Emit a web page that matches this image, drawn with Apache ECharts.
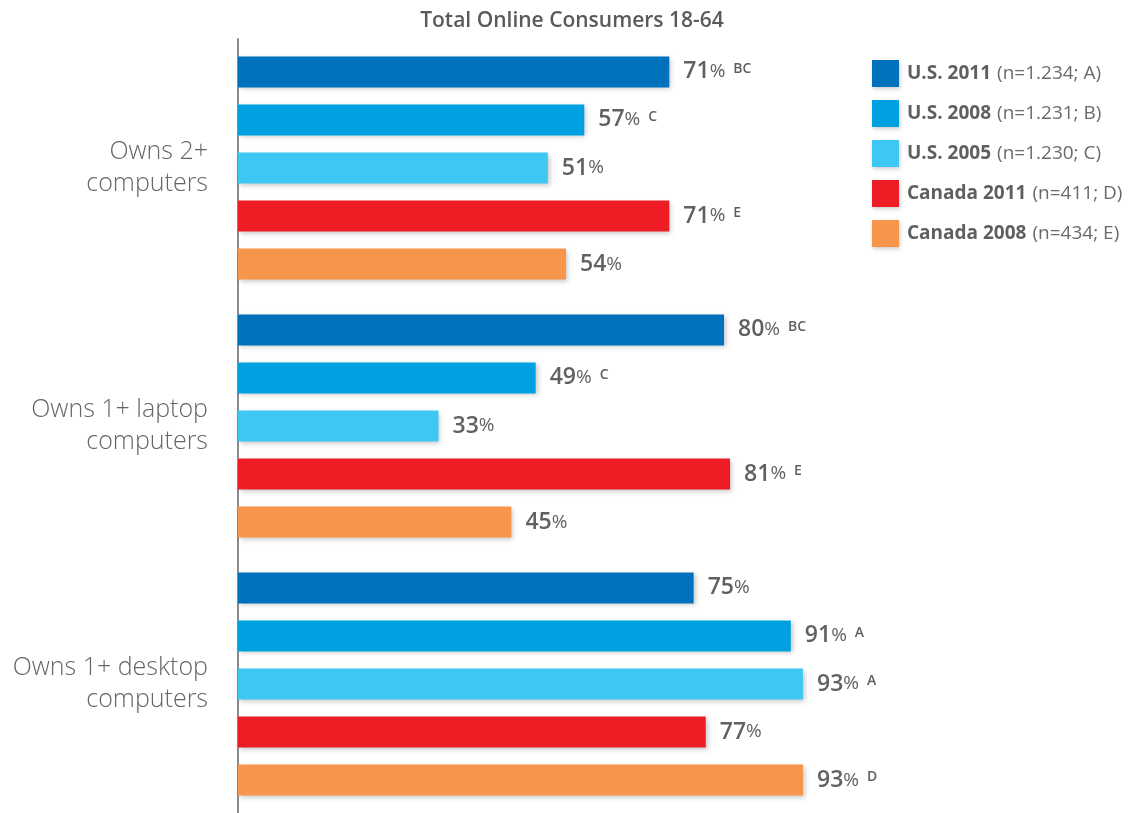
<!DOCTYPE html>
<html>
<head>
<meta charset="utf-8">
<script src="https://cdn.jsdelivr.net/npm/echarts@6/dist/echarts.min.js"></script>
<style>
  html, body { margin: 0; padding: 0; background: #fff; }
  #chart { width: 1138px; height: 813px; }
</style>
</head>
<body>
<div id="chart"></div>
<script>
// Ownership categories (top to bottom)
const categories = ['Owns 2+\ncomputers', 'Owns 1+ laptop\ncomputers', 'Owns 1+ desktop\ncomputers'];

// Survey groups
const seriesNames = ['U.S. 2011', 'U.S. 2008', 'U.S. 2005', 'Canada 2011', 'Canada 2008'];
const sampleNotes = ['(n=1.234; A)', '(n=1.231; B)', '(n=1.230; C)', '(n=411; D)', '(n=434; E)'];
const seriesColors = ['#0071BC', '#00A1E1', '#3FC7F4', '#EE1C25', '#F7964A'];

// Percent values per group, one entry per category
const us2011 = [71, 80, 75];
const us2008 = [57, 49, 91];
const us2005 = [51, 33, 93];
const canada2011 = [71, 81, 77];
const canada2008 = [54, 45, 93];

// Significance markers shown after each value
const us2011Sig = ['BC', 'BC', ''];
const us2008Sig = ['C', 'C', 'A'];
const us2005Sig = ['', '', 'A'];
const canada2011Sig = ['E', 'E', ''];
const canada2008Sig = ['', '', 'D'];

const seriesValues = [us2011, us2008, us2005, canada2011, canada2008];
const seriesSig = [us2011Sig, us2008Sig, us2005Sig, canada2011Sig, canada2008Sig];

const FONT = '"Open Sans", Lato, sans-serif';
const TEXT = '#616161';

const chart = echarts.init(document.getElementById('chart'));

const series = seriesNames.map((name, i) => ({
  name: name,
  type: 'bar',
  data: seriesValues[i],
  barWidth: 31,
  barGap: '55%',
  itemStyle: {
    color: seriesColors[i],
    shadowColor: 'rgba(0,0,0,0.22)',
    shadowBlur: 5,
    shadowOffsetX: 2,
    shadowOffsetY: 2
  },
  label: {
    show: true,
    position: 'right',
    distance: 14,
    formatter: p => {
      const sig = seriesSig[i][p.dataIndex];
      return '{v|' + p.value + '}{p|%}' + (sig ? '{s|' + sig + '}' : '');
    },
    rich: {
      v: { fontFamily: FONT, fontSize: 23, fontWeight: 600, color: TEXT },
      p: { fontFamily: FONT, fontSize: 19, fontWeight: 'normal', color: TEXT },
      s: { fontFamily: FONT, fontSize: 14, fontWeight: 600, color: TEXT, padding: [0, 0, 6, 8] }
    }
  }
}));

chart.setOption({
  animation: false,
  backgroundColor: '#fff',
  title: {
    text: 'Total Online Consumers 18-64',
    left: 567,
    textAlign: 'center',
    top: 6,
    textStyle: { fontFamily: FONT, fontSize: 21, fontWeight: 600, color: '#5a5a5a' }
  },
  legend: {
    orient: 'vertical',
    left: 872,
    top: 60,
    padding: 0,
    itemWidth: 27,
    itemHeight: 27,
    itemGap: 13,
    icon: 'rect',
    data: seriesNames.map((n, i) => ({
      name: n,
      itemStyle: {
        color: seriesColors[i],
        shadowColor: 'rgba(0,0,0,0.2)',
        shadowBlur: 4,
        shadowOffsetX: 1,
        shadowOffsetY: 2
      }
    })),
    formatter: name => {
      const i = seriesNames.indexOf(name);
      return '{b|' + name + '}{n|' + sampleNotes[i] + '}';
    },
    textStyle: {
      rich: {
        b: { fontFamily: FONT, fontSize: 19, fontWeight: 'bold', color: '#5f5f5f', padding: [0, 6, 0, 3] },
        n: { fontFamily: FONT, fontSize: 19, fontWeight: 'normal', color: '#6a6a6a' }
      }
    }
  },
  grid: { left: 238, top: 39, width: 607.5, height: 774, containLabel: false },
  xAxis: {
    type: 'value',
    min: 0,
    max: 100,
    show: false
  },
  yAxis: {
    type: 'category',
    data: categories,
    inverse: true,
    axisTick: { show: false },
    axisLine: { show: true, lineStyle: { color: '#8c8c8c', width: 2 } },
    axisLabel: {
      margin: 30,
      align: 'right',
      fontFamily: FONT,
      fontSize: 25,
      fontWeight: 300,
      color: '#666666',
      lineHeight: 32
    }
  },
  series: series
});
</script>
</body>
</html>
